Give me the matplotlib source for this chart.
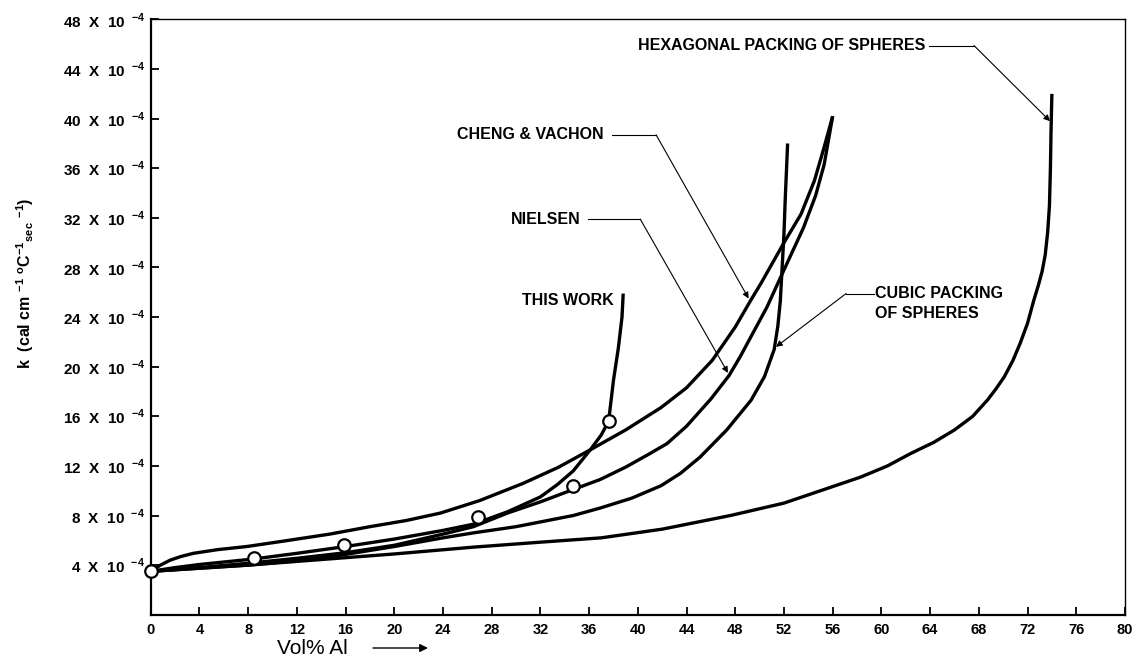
import numpy as np
import matplotlib
matplotlib.use("Agg")
import matplotlib.pyplot as plt

plt.rcParams['font.family'] = ['Liberation Sans', 'DejaVu Sans']
plt.rcParams['mathtext.fontset'] = 'custom'
plt.rcParams['mathtext.rm'] = 'Liberation Sans'
plt.rcParams['mathtext.bf'] = 'Liberation Sans:bold'

# curves (Vol% Al, k in 1e-4 units)
this_work_x = [0, 2, 4, 8.5, 12, 16, 20, 24, 26.5, 29.3, 32, 33.4, 34.7, 36.1, 37.0, 37.6, 38.0, 38.4, 38.7, 38.8]
this_work_y = [3.5, 3.8, 4.05, 4.5, 4.95, 5.5, 6.1, 6.8, 7.3, 8.3, 9.5, 10.5, 11.6, 13.3, 14.5, 15.6, 18.9, 21.5, 24.0, 25.9]

nielsen_x = [0, 4, 8, 12, 16, 20, 24, 26.5, 29.3, 32, 34.7, 36.9, 39, 41, 42.4, 44, 46, 47.5, 48.4, 49.5, 50.6, 52.0, 53.6, 54.6, 55.3, 56.0]
nielsen_y = [3.5, 3.8, 4.15, 4.55, 5.0, 5.6, 6.5, 7.1, 8.2, 9.1, 10.1, 10.9, 11.9, 13.0, 13.8, 15.2, 17.4, 19.3, 20.8, 22.8, 24.8, 27.8, 31.2, 33.8, 36.3, 40.2]

cheng_x = [0, 0.8, 1.6, 2.5, 3.5, 5.5, 7.9, 11, 14.7, 18, 21, 23.8, 27, 30.6, 33.5, 36.1, 39, 41.9, 44, 46.1, 48, 49.3, 50.1, 52.0, 53.4, 54.5, 55.3, 56.0]
cheng_y = [3.5, 4.0, 4.4, 4.7, 4.95, 5.25, 5.5, 5.95, 6.5, 7.1, 7.6, 8.2, 9.2, 10.6, 11.9, 13.3, 14.9, 16.7, 18.3, 20.5, 23.2, 25.4, 26.7, 30.0, 32.3, 35.0, 37.7, 40.2]

cubic_x = [0, 4, 8, 12, 15.6, 20, 24, 26.5, 30, 34.7, 36.9, 39.5, 41.9, 43.5, 45.1, 47.3, 49.3, 50.4, 51.2, 51.5, 51.7, 51.85, 52.0, 52.1, 52.3]
cubic_y = [3.5, 3.75, 4.0, 4.35, 4.8, 5.5, 6.2, 6.6, 7.1, 8.0, 8.6, 9.4, 10.4, 11.4, 12.7, 14.9, 17.3, 19.2, 21.4, 23.3, 25.3, 28.0, 30.7, 33.4, 38.0]

hex_x = [0, 4, 8, 12, 16, 20, 26.5, 32, 37, 42, 47.6, 52, 55, 58.3, 60.5, 62.4, 64.3, 66.0, 67.5, 68.7, 69.4, 70.1, 70.8, 71.4,
         72.0, 72.5, 72.9, 73.2, 73.45, 73.65, 73.8, 73.88, 73.93, 74.0]
hex_y = [3.5, 3.75, 4.0, 4.3, 4.6, 4.9, 5.45, 5.85, 6.2, 6.9, 8.0, 9.0, 10.0, 11.1, 12.0, 13.0, 13.9, 14.9, 16.0, 17.3, 18.2, 19.2, 20.5, 21.9,
         23.5, 25.3, 26.6, 27.7, 29.0, 30.8, 33.0, 36.0, 39.0, 42.0]

# measured points
pts_x = [0.0, 8.5, 15.9, 26.9, 34.7, 37.6]
pts_y = [3.55, 4.55, 5.65, 7.85, 10.35, 15.65]

x_ticks = list(range(0, 81, 4))
y_ticks = list(range(4, 49, 4))

fig = plt.figure(figsize=(11.33, 6.6), dpi=100)
ax = fig.add_axes([0.133, 0.0686, 0.8599, 0.9019])

lw = 2.4
for xs, ys in [(this_work_x, this_work_y), (nielsen_x, nielsen_y), (cheng_x, cheng_y),
               (cubic_x, cubic_y), (hex_x, hex_y)]:
    ax.plot(xs, ys, color='black', lw=lw, solid_capstyle='butt', solid_joinstyle='round', zorder=3)

ax.plot(pts_x, pts_y, 'o', ms=9, mfc='white', mec='black', mew=1.6, zorder=5, clip_on=False)

ax.set_xlim(0, 80)
ax.set_ylim(0, 48)
ax.set_xticks(x_ticks)
ax.set_xticklabels([str(v) for v in x_ticks], fontweight='bold', fontsize=10.5)
ax.set_yticks(y_ticks)
ax.set_yticklabels([r'%d  X  10 $^{\;\mathbf{-4}}$' % v for v in y_ticks],
                   fontweight='bold', fontsize=11)
ax.tick_params(axis='both', direction='in', length=6, width=1.3, pad=4)
ax.tick_params(axis='x', pad=6)

for side in ['left', 'bottom']:
    ax.spines[side].set_linewidth(1.6)
for side in ['top', 'right']:
    ax.spines[side].set_linewidth(1.0)

# curve labels with leader lines
lab = dict(fontsize=11.5, fontweight='bold')
leader = dict(arrowstyle='-|>', lw=0.8, color='black', mutation_scale=9,
              shrinkA=0, shrinkB=0)

ax.text(63.6, 45.9, 'HEXAGONAL PACKING OF SPHERES', ha='right', va='center', **lab)
ax.plot([63.9, 67.6], [45.9, 45.9], color='black', lw=0.8)
ax.annotate('', xy=(73.85, 39.8), xytext=(67.6, 45.9), arrowprops=leader)

ax.text(37.2, 38.7, 'CHENG & VACHON', ha='right', va='center', **lab)
ax.plot([37.9, 41.5], [38.7, 38.7], color='black', lw=0.8)
ax.annotate('', xy=(49.1, 25.5), xytext=(41.5, 38.7), arrowprops=leader)

ax.text(35.3, 31.9, 'NIELSEN', ha='right', va='center', **lab)
ax.plot([35.9, 40.2], [31.9, 31.9], color='black', lw=0.8)
ax.annotate('', xy=(47.4, 19.5), xytext=(40.2, 31.9), arrowprops=leader)

ax.text(38.0, 25.3, 'THIS WORK', ha='right', va='center', **lab)

ax.text(59.5, 25.9, 'CUBIC PACKING', ha='left', va='center', **lab)
ax.text(59.5, 24.3, 'OF SPHERES', ha='left', va='center', **lab)
ax.plot([59.4, 57.1], [25.9, 25.9], color='black', lw=0.8)
ax.annotate('', xy=(51.35, 21.6), xytext=(57.1, 25.9), arrowprops=leader)

# axis titles
fig.text(25 / 1133, 1 - 283 / 660,
         r'k  (cal cm $^{\mathbf{-1}}$ $^{\mathbf{o}}$C$^{\mathbf{-1}}$$_{\mathbf{sec}}$ $^{\mathbf{-1}}$)',
         rotation=90, ha='center', va='center', fontsize=11.5, fontweight='bold')
fig.text(277 / 1133, 1 - 648 / 660, 'Vol% Al', ha='left', va='center', fontsize=15)
ax.annotate('', xy=(428, 12), xytext=(373, 12), xycoords='figure pixels',
            arrowprops=dict(arrowstyle='-|>', lw=1.0, color='black', mutation_scale=12,
                            shrinkA=0, shrinkB=0))

fig.savefig('out.png', dpi=100)
